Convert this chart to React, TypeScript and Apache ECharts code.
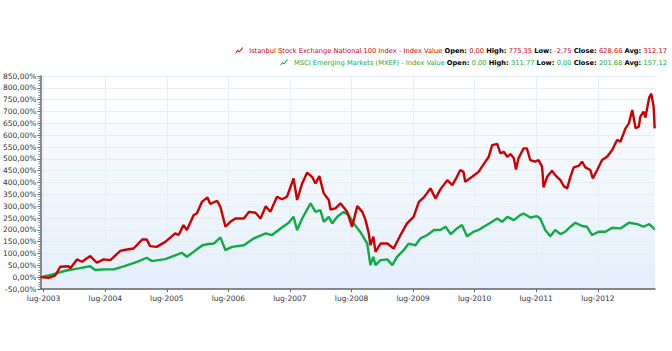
import React, { useEffect, useRef } from "react";
import * as echarts from "echarts";

const redName = "Istanbul Stock Exchange National 100 Index - Index Value";
const greenName = "MSCI Emerging Markets (MXEF) - Index Value";

const redStats = ["0,00", "775,35", "-2,75", "628,66", "312,17"];
const greenStats = ["0,00", "311,77", "0,00", "201,68", "157,12"];
const statLabels = ["Open:", "High:", "Low:", "Close:", "Avg:"];

const tickYears = [2003, 2004, 2005, 2006, 2007, 2008, 2009, 2010, 2011, 2012];

const redDates = [
  "2003-06-13", "2003-07-30", "2003-09-09", "2003-10-08", "2003-11-27", "2003-12-06",
  "2004-01-15", "2004-02-14", "2004-04-03", "2004-05-12", "2004-06-21", "2004-07-31",
  "2004-09-28", "2004-11-07", "2004-12-16", "2005-02-05", "2005-03-04", "2005-03-24",
  "2005-05-02", "2005-06-22", "2005-08-20", "2005-09-09", "2005-10-08", "2005-10-28",
  "2005-12-07", "2005-12-26", "2006-01-25", "2006-02-27", "2006-03-16", "2006-04-25",
  "2006-05-15", "2006-06-14", "2006-07-13", "2006-08-12", "2006-10-01", "2006-11-01",
  "2006-12-09", "2007-01-08", "2007-02-08", "2007-03-07", "2007-04-16", "2007-05-15",
  "2007-06-14", "2007-07-23", "2007-08-13", "2007-09-12", "2007-10-11", "2007-11-10",
  "2007-11-30", "2007-12-23", "2008-01-18", "2008-02-17", "2008-02-27", "2008-03-27",
  "2008-04-26", "2008-06-05", "2008-07-04", "2008-08-04", "2008-09-03", "2008-09-22",
  "2008-10-11", "2008-10-21", "2008-11-07", "2008-11-20", "2008-12-20", "2009-01-29",
  "2009-03-08", "2009-04-17", "2009-05-26", "2009-07-04", "2009-08-04", "2009-09-03",
  "2009-10-12", "2009-11-11", "2009-12-10", "2010-01-20", "2010-02-19", "2010-03-18",
  "2010-04-07", "2010-04-26", "2010-05-06", "2010-06-16", "2010-07-24", "2010-09-03",
  "2010-09-23", "2010-10-13", "2010-11-12", "2010-12-01", "2010-12-21", "2011-01-11",
  "2011-01-30", "2011-02-19", "2011-03-03", "2011-03-18", "2011-04-17", "2011-05-07",
  "2011-05-27", "2011-06-26", "2011-07-15", "2011-08-05", "2011-08-14", "2011-09-04",
  "2011-10-03", "2011-10-22", "2011-11-22", "2011-12-11", "2012-01-01", "2012-01-20",
  "2012-02-09", "2012-03-09", "2012-03-29", "2012-04-18", "2012-05-17", "2012-06-01",
  "2012-06-27", "2012-07-26", "2012-08-25", "2012-09-24", "2012-10-23", "2012-11-12",
  "2012-12-12", "2013-01-01", "2013-01-21", "2013-02-10", "2013-03-01", "2013-03-10",
  "2013-03-29", "2013-04-09", "2013-05-02", "2013-05-14", "2013-05-28", "2013-06-03",
];
const redValues = [
  0, -2.75, 8, 44, 46, 37,
  75, 65, 89, 61, 75, 72,
  111, 117, 121, 159, 159, 131,
  128, 149, 185, 178, 220, 199,
  262, 269, 318, 337, 309, 323,
  297, 213, 234, 248, 248, 276,
  272, 248, 300, 276, 340, 329,
  340, 417, 326, 396, 441, 424,
  396, 427, 354, 326, 286, 291,
  312, 276, 213, 300, 276, 241,
  185, 135, 171, 107, 142, 142,
  121, 178, 227, 255, 318, 337,
  375, 333, 371, 410, 389, 424,
  453, 445, 403, 424, 445, 488,
  509, 558, 563, 523, 530, 509,
  520, 502, 455, 502, 544, 544,
  495, 488, 495, 467, 379, 424,
  450, 431, 410, 385, 375, 424,
  464, 470, 488, 464, 453, 417,
  453, 495, 509, 537, 580, 572,
  629, 650, 706, 629, 636, 678,
  699, 675, 760, 775.35, 720, 628.66,
];

const greenDates = [
  "2003-06-13", "2003-08-19", "2003-11-07", "2004-01-25", "2004-04-03", "2004-05-02",
  "2004-06-21", "2004-08-20", "2004-10-18", "2005-01-06", "2005-03-04", "2005-04-03",
  "2005-06-22", "2005-09-28", "2005-10-28", "2005-12-07", "2005-12-19", "2006-01-28",
  "2006-03-07", "2006-04-06", "2006-05-15", "2006-06-14", "2006-07-23", "2006-10-01",
  "2006-11-30", "2007-02-08", "2007-03-17", "2007-05-15", "2007-06-24", "2007-07-23",
  "2007-08-13", "2007-09-12", "2007-11-01", "2007-11-30", "2007-12-29", "2008-01-18",
  "2008-02-17", "2008-03-08", "2008-04-07", "2008-05-15", "2008-06-14", "2008-07-14",
  "2008-08-23", "2008-10-02", "2008-10-21", "2008-11-07", "2008-11-20", "2008-12-20",
  "2009-01-29", "2009-02-28", "2009-03-28", "2009-05-06", "2009-06-05", "2009-07-15",
  "2009-08-14", "2009-09-23", "2009-11-02", "2009-12-10", "2010-01-10", "2010-02-09",
  "2010-03-18", "2010-04-17", "2010-05-17", "2010-06-25", "2010-07-24", "2010-08-24",
  "2010-10-03", "2010-11-12", "2010-12-11", "2011-01-11", "2011-02-19", "2011-03-28",
  "2011-04-17", "2011-05-27", "2011-07-06", "2011-07-25", "2011-08-24", "2011-09-23",
  "2011-10-22", "2011-11-22", "2011-12-21", "2012-01-20", "2012-02-19", "2012-03-29",
  "2012-04-28", "2012-05-28", "2012-07-06", "2012-08-15", "2012-09-24", "2012-11-12",
  "2013-01-01", "2013-02-20", "2013-03-29", "2013-05-02", "2013-06-03",
];
const greenValues = [
  0, 11, 27, 37, 46, 30,
  33, 33, 46, 65, 82, 68,
  76, 103, 86, 107, 114, 135,
  140, 142, 168, 114, 128, 135,
  164, 185, 178, 210, 230, 255,
  199, 248, 311.77, 276, 283, 234,
  255, 227, 255, 276, 262, 227,
  190, 142, 51, 86, 51, 72,
  75, 51, 86, 114, 142, 135,
  164, 178, 199, 199, 213, 182,
  206, 220, 173, 192, 199, 213,
  230, 248, 234, 255, 241, 262,
  269, 252, 258, 248, 199, 173,
  199, 182, 192, 213, 230, 216,
  213, 178, 192, 192, 209, 206,
  230, 224, 213, 224, 201.68,
];

const RED = "#cc0000";
const GREEN = "#11aa44";
const FONT = "DejaVu Sans";

const toTime = (d: string) => Date.parse(d + "T00:00:00Z");

function legendText(name: string, stats: string[]) {
  let s = "{n|" + name + " }";
  statLabels.forEach((l, i) => {
    s += "{b|" + l + " }{v|" + stats[i] + (i < stats.length - 1 ? " " : "") + "}";
  });
  return s;
}

const zigzag = "path://M0,8 L3,4 L5,6 L9,1 L10,0 L10,2 L5,8 L3,6 L0,10 Z";

export default function App() {
  const ref = useRef<HTMLDivElement>(null);
  useEffect(() => {
    if (!ref.current) return;
    const chart = echarts.init(ref.current, undefined, { renderer: "svg" });
    const fs = 6.7;
    const mkRich = (color: string) => ({
      n: { color, fontFamily: FONT, fontSize: fs },
      b: { color: "#000", fontFamily: FONT, fontSize: fs, fontWeight: "bold" },
      v: { color, fontFamily: FONT, fontSize: fs },
    });
    const tickValues = tickYears.map((y) => Date.UTC(y, 6, 1));
    const legendBase = {
      right: 5,
      padding: 0,
      icon: zigzag,
      itemWidth: 10,
      itemHeight: 7,
      selectedMode: false,
    };
    chart.setOption({
      animation: false,
      backgroundColor: "#ffffff",
      legend: [
        {
          ...legendBase,
          data: [redName],
          top: 47,
          formatter: () => legendText(redName, redStats),
          textStyle: { rich: mkRich(RED), fontSize: fs, fontFamily: FONT, padding: 0 },
        },
        {
          ...legendBase,
          data: [greenName],
          top: 59,
          formatter: () => legendText(greenName, greenStats),
          textStyle: { rich: mkRich(GREEN), fontSize: fs, fontFamily: FONT, padding: 0 },
        },
      ],
      grid: {
        left: 40,
        right: 17,
        top: 76,
        bottom: 62,
        show: true,
        borderWidth: 0,
        backgroundColor: {
          type: "linear",
          x: 0,
          y: 0,
          x2: 0,
          y2: 1,
          colorStops: [
            { offset: 0, color: "#ffffff" },
            { offset: 1, color: "#e4effb" },
          ],
        },
      },
      xAxis: {
        type: "value",
        min: toTime("2003-06-12"),
        max: toTime("2013-06-05"),
        axisLine: { onZero: false, lineStyle: { color: "#666", width: 1.5 } },
        axisTick: {
          show: true,
          length: 3,
          lineStyle: { color: "#666" },
          customValues: tickValues,
        },
        axisLabel: {
          customValues: tickValues,
          formatter: (v: number) => "lug-" + new Date(v).getUTCFullYear(),
          color: "#333",
          fontFamily: FONT,
          fontSize: 7.5,
          margin: 5,
        },
        splitLine: { show: true, lineStyle: { color: "#e8eef6", width: 1 } },
      },
      yAxis: {
        type: "value",
        min: -50,
        max: 850,
        interval: 50,
        axisLine: { show: true, lineStyle: { color: "#666", width: 1.5 } },
        axisTick: { show: true, length: 3, lineStyle: { color: "#666" } },
        minorTick: { show: true, splitNumber: 5, length: 2, lineStyle: { color: "#888" } },
        axisLabel: {
          formatter: (v: number) => v.toFixed(2).replace(".", ",") + "%",
          color: "#333",
          fontFamily: FONT,
          fontSize: 7.5,
          margin: 4,
        },
        splitLine: { show: true, lineStyle: { color: "#e6edf5", width: 1 } },
      },
      series: [
        {
          name: redName,
          type: "line",
          data: redDates.map((d, i) => [toTime(d), redValues[i]]),
          showSymbol: false,
          itemStyle: { color: RED },
          lineStyle: { color: RED, width: 2.4 },
          z: 3,
        },
        {
          name: greenName,
          type: "line",
          data: greenDates.map((d, i) => [toTime(d), greenValues[i]]),
          showSymbol: false,
          itemStyle: { color: GREEN },
          lineStyle: { color: GREEN, width: 2.4 },
          z: 2,
        },
      ],
    });
    return () => chart.dispose();
  }, []);
  return <div ref={ref} style={{ width: 672, height: 351, position: "absolute", left: 0, top: 0 }} />;
}
